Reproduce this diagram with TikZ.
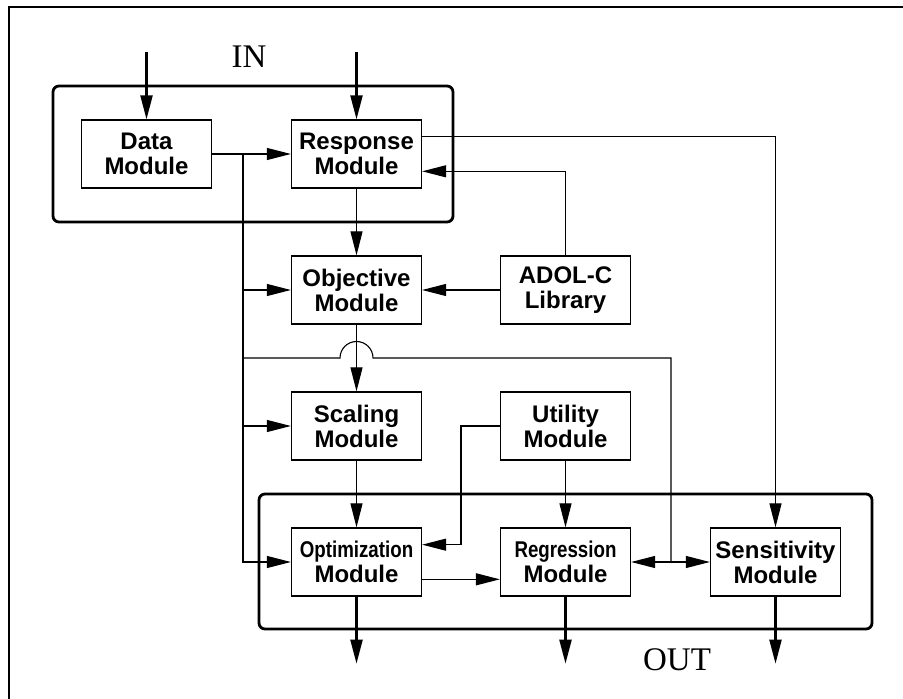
\documentclass[tikz,border=0pt]{standalone}
\usepackage{fontspec}
\setmainfont{Liberation Serif}
\setsansfont{Liberation Sans}
\usepackage{graphicx}
\usetikzlibrary{arrows.meta, positioning, calc}
\tikzset{
  modbox/.style={rectangle, draw, line width=0.65pt, fill=white,
                 minimum width=65pt, minimum height=34pt, inner sep=0pt, align=center,
                 font=\sffamily\bfseries\fontsize{12}{12.5}\selectfont},
  arrow/.style={-{Triangle[length=12pt,width=6pt]}, line width=0.55pt},
  line/.style={line width=0.55pt},
  ioarrow/.style={-{Triangle[length=12pt,width=6pt]}, line width=1.1pt},
  groupbox/.style={rectangle, draw, line width=1.4pt, rounded corners=3pt},
  iolabel/.style={font=\fontsize{16.5}{18}\selectfont},
}
\newcommand{\narrowtxt}[1]{\scalebox{0.78}[0.95]{#1}}

\begin{document}
\begin{tikzpicture}[x=0.5pt, y=-0.5pt]
  \useasboundingbox (0,0) rectangle (903,699);
  \draw[line width=1pt] (9,699) -- (9,7) -- (903,7);

  \node[groupbox, minimum width=200pt, minimum height=68pt] (inbox) at (253,154) {};
  \node[groupbox, minimum width=306.5pt, minimum height=67.5pt] (outbox) at (565.5,561.5) {};

  \node[modbox] (data) at (146.5,154) {Data\\Module};
  \node[modbox] (resp) at (356.5,154) {Response\\Module};
  \node[modbox] (obj)  at (356.5,290) {Objective\\Module};
  \node[modbox] (adol) at (565.5,290) {ADOL-C\\Library};
  \node[modbox] (scal) at (356.5,426) {Scaling\\Module};
  \node[modbox] (util) at (565.5,426) {Utility\\Module};
  \node[modbox] (opt)  at (356.5,562) {\narrowtxt{Optimization}\\Module};
  \node[modbox] (regr) at (565.5,562) {\narrowtxt{Regression}\\Module};
  \node[modbox] (sens) at (775.5,562) {Sensitivity\\Module};

  \node[iolabel] (inlabel)  at (249,57)  {IN};
  \node[iolabel] (outlabel) at (677,660) {OUT};

  % inputs
  \coordinate (datain) at (146.5,52);
  \coordinate (respin) at (356.5,52);
  \draw[ioarrow] (datain) -- (data);
  \draw[ioarrow] (respin) -- (resp);

  % data line
  \coordinate (split) at (243,154);
  \draw[arrow] (data) -- (resp);
  \draw[arrow] (split) |- (opt.west);
  \draw[arrow] (split |- obj.west) -- (obj.west);
  \draw[arrow] (split |- scal.west) -- (scal.west);

  \draw[arrow] (resp) -- (obj);
  \draw[arrow] ($(resp.north east)!0.25!(resp.south east)$) -| (sens.north);
  \draw[arrow] (adol.north) |- ($(resp.north east)!0.75!(resp.south east)$);
  \draw[arrow] (adol) -- (obj);
  \draw[arrow] (obj) -- (scal);

  % bus with hop
  \coordinate (bus) at (243,358);
  \coordinate (tap) at (671,562);
  \draw[line] (bus) -- ($(obj.south |- bus)+(-16.5,0)$)
    arc[start angle=180, end angle=0, radius=8.25pt] -- (bus -| tap) -- (tap);
  \draw[arrow] (tap) -- (regr.east);
  \draw[arrow] (tap) -- (sens.west);

  \coordinate (ubend) at (461,426);
  \draw[arrow] (util.west) -- (ubend) |- ($(opt.north east)!0.25!(opt.south east)$);
  \draw[arrow] (util) -- (regr);
  \draw[arrow] (scal) -- (opt);
  \draw[arrow] ($(opt.north east)!0.75!(opt.south east)$) -- ($(regr.north west)!0.75!(regr.south west)$);

  % outputs
  \foreach \m in {opt,regr,sens}
    \draw[ioarrow] (\m.south) -- ++(0,67);
\end{tikzpicture}
\end{document}
